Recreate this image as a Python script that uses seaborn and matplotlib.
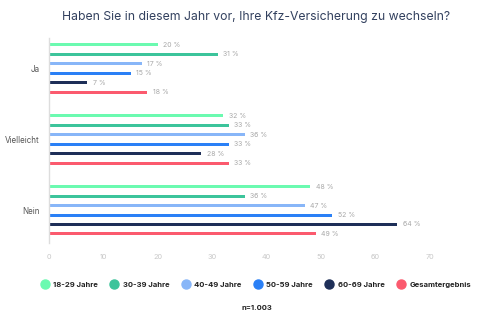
import matplotlib
matplotlib.use("Agg")
import matplotlib.pyplot as plt
import seaborn as sns
import pandas as pd
from matplotlib.lines import Line2D

categories = ["Ja", "Vielleicht", "Nein"]
groups = ["18-29 Jahre", "30-39 Jahre", "40-49 Jahre", "50-59 Jahre", "60-69 Jahre", "Gesamtergebnis"]
vals_1829 = [20, 32, 48]
vals_3039 = [31, 33, 36]
vals_4049 = [17, 36, 47]
vals_5059 = [15, 33, 52]
vals_6069 = [7, 28, 64]
vals_gesamt = [18, 33, 49]
xticks = [0, 10, 20, 30, 40, 50, 60, 70]

colors = ["#6bfab0", "#3cc49b", "#88b6f8", "#2a80f6", "#1e2f58", "#fb5a6e"]

series = [vals_1829, vals_3039, vals_4049, vals_5059, vals_6069, vals_gesamt]
rows = []
for g, vals in zip(groups, series):
    for c, v in zip(categories, vals):
        rows.append({"Antwort": c, "Gruppe": g, "Wert": v})
df = pd.DataFrame(rows)

sns.set_style("white")
plt.rcParams["font.family"] = ["Inter", "DejaVu Sans"]

fig = plt.figure(figsize=(5.0, 3.23), dpi=100)
ax = fig.add_axes([0.098, 0.248, 0.762, 0.634])

sns.barplot(data=df, y="Antwort", x="Wert", hue="Gruppe", order=categories,
            hue_order=groups, palette=colors, orient="h", width=0.8,
            saturation=1, legend=False, ax=ax, errorbar=None)

# thin bars
for p in ax.patches:
    cy = p.get_y() + p.get_height() / 2
    h = 0.042
    p.set_height(h)
    p.set_y(cy - h / 2)
    p.set_linewidth(0)

for cont in ax.containers:
    ax.bar_label(cont, labels=[f"{v:.0f} %" for v in cont.datavalues],
                 padding=4, fontsize=5, color="#a8a8a8")

ax.set_xlim(0, 70)
ax.set_ylim(2.46, -0.43)
ax.set_xticks(xticks)
ax.set_xticklabels([str(t) for t in xticks])
ax.tick_params(axis="x", length=0, labelsize=5.3, labelcolor="#c8c8c8", pad=8)
ax.tick_params(axis="y", length=0, labelsize=5.8, labelcolor="#555555", pad=7)
ax.set_xlabel("")
ax.set_ylabel("")
for s in ["top", "right", "bottom"]:
    ax.spines[s].set_visible(False)
ax.spines["left"].set_color("#dddddd")
ax.spines["left"].set_linewidth(1)

fig.text(0.512, 0.947, "Haben Sie in diesem Jahr vor, Ihre Kfz-Versicherung zu wechseln?",
         ha="center", va="center", fontsize=8.8, color="#33415f")

handles = [Line2D([0], [0], marker="o", linestyle="", markersize=6.5,
                  markerfacecolor=c, markeredgecolor=c) for c in colors]
leg = fig.legend(handles, groups, loc="center", bbox_to_anchor=(0.512, 0.118),
                 ncol=6, frameon=False, fontsize=5.5, handletextpad=0.6,
                 columnspacing=1.65, handlelength=1.0)
for t in leg.get_texts():
    t.set_fontweight("bold")
    t.set_color("#222222")

fig.text(0.514, 0.047, "n=1.003", ha="center", va="center", fontsize=5.5,
         fontweight="bold", color="#222222")

fig.savefig("out.png", dpi=100, facecolor="white")
